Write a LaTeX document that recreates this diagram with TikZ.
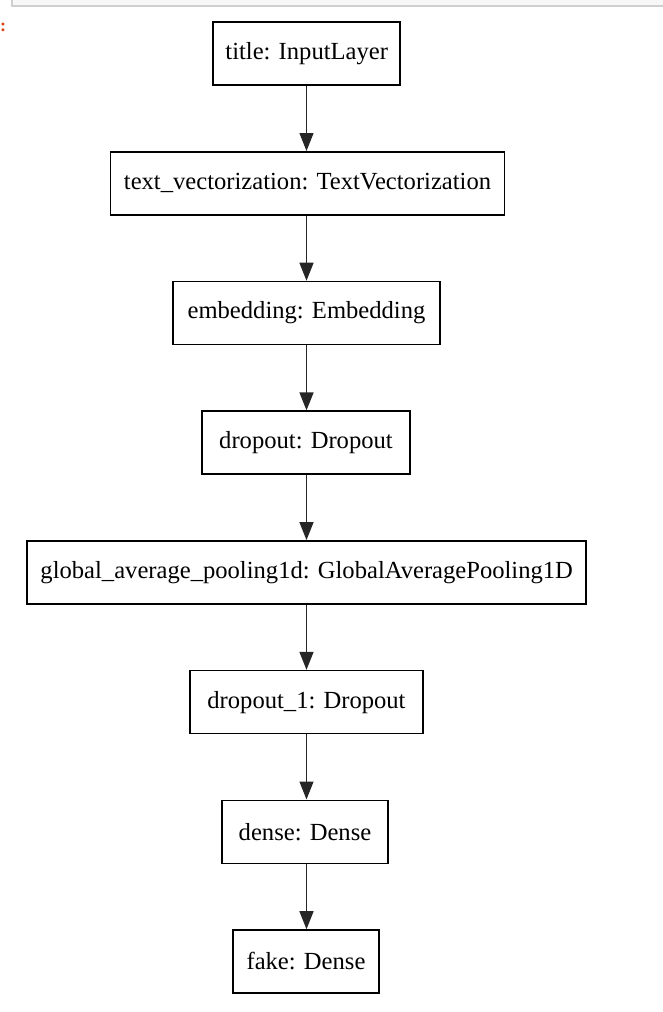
\documentclass[tikz,border=0pt]{standalone}
\usepackage{fontspec}
\setmainfont{Liberation Serif}
\usetikzlibrary{arrows.meta}
\definecolor{framegray}{HTML}{CFCFCF}
\definecolor{framefill}{HTML}{F7F7F7}
\definecolor{promptorange}{HTML}{D84315}
\begin{document}
\begin{tikzpicture}[x=1pt,y=-1pt,
  layerbox/.style={draw=black, line width=1.6pt, fill=white, minimum height=63pt,
    inner sep=0pt, font=\fontsize{24.6}{27}\selectfont, text=black},
  flow/.style={draw=black!85, line width=1.4pt, -{Triangle[length=18pt,width=14pt]}}]
\useasboundingbox (0,0) rectangle (662,1012);
% notebook cell frame
\fill[framefill] (12,-5) rectangle (670,6);
\draw[framegray, line width=1.2pt] (12,-5) -- (12,6) -- (670,6);
\node[text=promptorange, font=\bfseries\fontsize{18}{20}\selectfont, inner sep=0pt, anchor=west] (prompt) at (0,27) {:};
% layers
\node[layerbox, minimum width=187pt] (n1) at (306.7,53.6) {title: InputLayer};
\node[layerbox, minimum width=394pt] (n2) at (307.5,183.3) {text\_vectorization: TextVectorization};
\node[layerbox, minimum width=267pt] (n3) at (306.5,313.0) {embedding: Embedding};
\node[layerbox, minimum width=208pt] (n4) at (306,442.7) {dropout: Dropout};
\node[layerbox, minimum width=559pt] (n5) at (306.7,572.4) {global\_average\_pooling1d: GlobalAveragePooling1D};
\node[layerbox, minimum width=233pt] (n6) at (306.5,702.1) {dropout\_1: Dropout};
\node[layerbox, minimum width=166pt] (n7) at (305,831.8) {dense: Dense};
\node[layerbox, minimum width=146pt] (n8) at (306,961.5) {fake: Dense};
% connectors
\foreach \a/\b in {n1/n2,n2/n3,n3/n4,n4/n5,n5/n6,n6/n7,n7/n8}
  \draw[flow] (\a.south -| 306.5,0) -- (\b.north -| 306.5,0);
\end{tikzpicture}
\end{document}
